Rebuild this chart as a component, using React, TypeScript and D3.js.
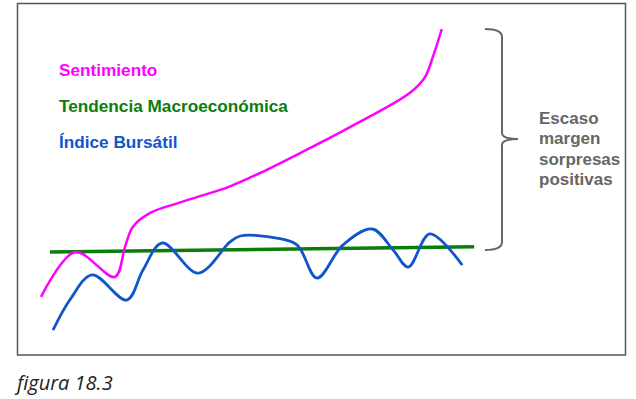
import React from "react";
import * as d3 from "d3";

const W = 636;
const H = 399;

// Series values (x: time units 0-100, y: level 0-100)
const sentimientoX = [3.5, 9.2, 15.8, 17.5, 18.8, 21.7, 26.7, 35, 40, 46.7, 55, 65, 67.5, 68.8, 70.3];
const sentimientoY = [16.6, 29.4, 22.3, 30.9, 36.6, 40.6, 43.6, 48.2, 52, 57.7, 65.1, 74.9, 79.4, 85.1, 93.1];

const indiceX = [5.5, 8.3, 12, 17.8, 20.5, 23.7, 29.7, 35, 36.7, 42.8, 46.2, 49.5, 53.8, 58.7, 62.2, 64.7, 68.3, 73.7];
const indiceY = [7.1, 15.7, 22.9, 15.7, 24.3, 32, 23.4, 32.3, 34, 33.4, 31.4, 22, 31.4, 36, 30, 25.1, 34.6, 25.7];

const tendenciaX = [5, 75.7];
const tendenciaY = [29.4, 30.9];

const legendLabels = ["Sentimiento", "Tendencia Macroeconómica", "Índice Bursátil"];
const legendColors = ["#ff00ff", "#0b7d0b", "#1155cc"];
const noteLines = ["Escaso", "margen", "sorpresas", "positivas"];
const caption = "figura 18.3";

export default function App() {
  const x = d3.scaleLinear().domain([0, 100]).range([20, 620]);
  const y = d3.scaleLinear().domain([0, 100]).range([355, 5]);

  const line = d3
    .line<[number, number]>()
    .x((d) => x(d[0]))
    .y((d) => y(d[1]))
    .curve(d3.curveCatmullRom.alpha(0.5));
  const straight = d3
    .line<[number, number]>()
    .x((d) => x(d[0]))
    .y((d) => y(d[1]));

  const zip = (a: number[], b: number[]) => a.map((v, i) => [v, b[i]] as [number, number]);

  // brace geometry
  const bx0 = 485, bx1 = 502, btip = 518, by0 = 29, by1 = 250, bmid = 139;
  const brace = `M${bx0},${by0} Q${bx1},${by0} ${bx1},${by0 + 8} L${bx1},${bmid - 6} Q${bx1},${bmid} ${btip},${bmid} Q${bx1},${bmid} ${bx1},${bmid + 6} L${bx1},${by1 - 8} Q${bx1},${by1} ${bx0},${by1}`;

  return (
    <svg
      width={W}
      height={H}
      style={{ position: "absolute", left: 0, top: 0, background: "#fff" }}
    >
      <rect x={17.5} y={3.5} width={608} height={351.5} fill="#fff" stroke="#555" strokeWidth={1.5} />
      <path d={straight(zip(tendenciaX, tendenciaY)) || ""} fill="none" stroke="#0b7d0b" strokeWidth={3.5} />
      <path d={line(zip(sentimientoX, sentimientoY)) || ""} fill="none" stroke="#ff00ff" strokeWidth={2.5} />
      <path d={line(zip(indiceX, indiceY)) || ""} fill="none" stroke="#1155cc" strokeWidth={2.8} />

      {legendLabels.map((t, i) => (
        <text
          key={t}
          x={59}
          y={76 + i * 36}
          fill={legendColors[i]}
          fontFamily="'Liberation Sans', Arial, sans-serif"
          fontWeight="bold"
          fontSize={17.2}
        >
          {t}
        </text>
      ))}

      <path d={brace} fill="none" stroke="#666" strokeWidth={2} />

      {noteLines.map((t, i) => (
        <text
          key={t}
          x={539}
          y={123.5 + i * 20.6}
          fill="#666"
          fontFamily="'Liberation Sans', Arial, sans-serif"
          fontWeight="bold"
          fontSize={17}
        >
          {t}
        </text>
      ))}

      <text
        x={17}
        y={390}
        fill="#222"
        fontFamily="'Open Sans', sans-serif"
        fontStyle="italic"
        fontSize={20}
      >
        {caption}
      </text>
    </svg>
  );
}
